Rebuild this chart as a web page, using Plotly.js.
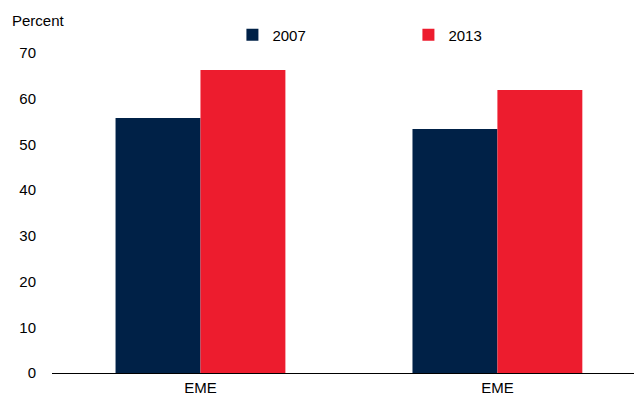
<!DOCTYPE html>
<html><head><meta charset="utf-8">
<script src="https://cdn.plot.ly/plotly-3.0.1.min.js"></script>
<style>body{margin:0;padding:0;background:#fff}#chart{width:634px;height:396px}</style>
</head><body><div id="chart"></div>
<script>
const categories = ["EME", "EME"];
const positions = [0, 1];
const series2007 = [55.8, 53.4];
const series2013 = [66.3, 61.9];
const seriesNames = ["2007", "2013"];
const yTicks = [0, 10, 20, 30, 40, 50, 60, 70];

const font = {family: "Liberation Sans, Arial, sans-serif", size: 15, color: "#000"};
const traces = [
  {type: "bar", name: seriesNames[0], x: positions, y: series2007, marker: {color: "#002147", line: {width: 0}}},
  {type: "bar", name: seriesNames[1], x: positions, y: series2013, marker: {color: "#ED1C2E", line: {width: 0}}}
];
const layout = {
  width: 634, height: 396,
  margin: {l: 52, r: 0, t: 53, b: 23, pad: 0},
  paper_bgcolor: "#fff", plot_bgcolor: "#fff",
  font: font,
  barmode: "group", bargap: 0.428, bargroupgap: 0,
  xaxis: {range: [-0.5, 1.46], tickvals: positions, ticktext: categories, showgrid: false, zeroline: false,
          showline: true, linecolor: "#000", linewidth: 1, ticks: "", ticklabelstandoff: 1, tickfont: font, fixedrange: true},
  yaxis: {range: [0, 70], tickvals: yTicks, showgrid: false, zeroline: false, showline: false, ticks: "",
          ticklabelstandoff: 15, tickfont: font, fixedrange: true},
  showlegend: true,
  legend: {orientation: "h", x: 0.31, xanchor: "left", y: 1.056, yanchor: "middle", font: font,
           entrywidth: 131, entrywidthmode: "pixels", bgcolor: "rgba(0,0,0,0)", traceorder: "normal"},
  annotations: [{text: "Percent", xref: "paper", yref: "paper", x: -52/582, xanchor: "left", xshift: 10,
                 y: 1 + (53-21)/320, yanchor: "middle", showarrow: false, font: font}]
};
Plotly.newPlot("chart", traces, layout, {displayModeBar: false, staticPlot: true});
</script></body></html>
